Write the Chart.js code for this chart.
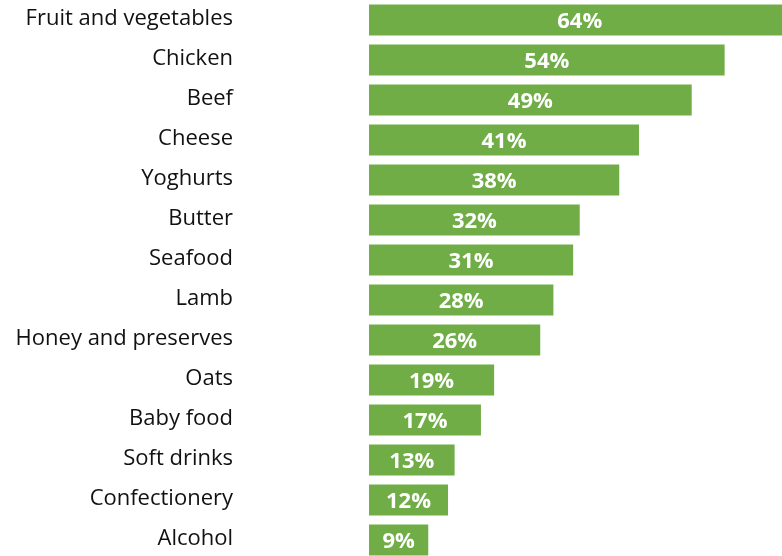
<!DOCTYPE html>
<html lang="en">
  <head>
    <meta charset="UTF-8" />
    <title>Food categories</title>
    <script src="https://cdn.jsdelivr.net/npm/chart.js"></script>
    <style>
      html, body { margin: 0; padding: 0; background: #fff; overflow: hidden; }
      body { width: 782px; height: 556px; }
      #myChart { display: block; }
    </style>
  </head>
  <body>
    <canvas id="myChart" width="830" height="560"></canvas>

    <script>
      const categories = [
        "Fruit and vegetables", "Chicken", "Beef", "Cheese", "Yoghurts",
        "Butter", "Seafood", "Lamb", "Honey and preserves", "Oats",
        "Baby food", "Soft drinks", "Confectionery", "Alcohol"
      ];
      const shares = [64, 54, 49, 41, 38, 32, 31, 28, 26, 19, 17, 13, 12, 9];

      // white percentage text in the middle of each bar
      const barValues = {
        id: "barValues",
        afterDatasetsDraw(chart) {
          const ctx = chart.ctx;
          const meta = chart.getDatasetMeta(0);
          ctx.save();
          ctx.fillStyle = "#ffffff";
          ctx.font = "bold 22px 'Open Sans'";
          ctx.textAlign = "center";
          ctx.textBaseline = "middle";
          meta.data.forEach((bar, i) => {
            const cx = (bar.x + bar.base) / 2;
            ctx.fillText(shares[i] + "%", cx, bar.y + 2);
          });
          ctx.restore();
        },
      };

      new Chart(document.getElementById("myChart"), {
        type: "bar",
        data: {
          labels: categories,
          datasets: [
            {
              data: shares,
              backgroundColor: "#70ad47",
              borderWidth: 0,
              categoryPercentage: 0.77,
              barPercentage: 1,
            },
          ],
        },
        options: {
          indexAxis: "y",
          responsive: false,
          animation: false,
          devicePixelRatio: 1,
          layout: { padding: 0 },
          plugins: {
            legend: { display: false },
            tooltip: { enabled: false },
          },
          scales: {
            x: {
              display: false,
              min: 0,
              max: 70,
            },
            y: {
              border: { display: false },
              grid: { display: false, drawTicks: false },
              ticks: {
                color: "#111111",
                padding: 136,
                labelOffset: -1,
                font: { family: "'Open Sans'", size: 22 },
              },
              afterFit(scale) {
                // fixed gutter for the names; the big tick padding must not eat vertical room
                scale.width = 369;
                scale.paddingTop = 0;
                scale.paddingBottom = 0;
              },
            },
          },
        },
        plugins: [barValues],
      });
    </script>
  </body>
</html>
